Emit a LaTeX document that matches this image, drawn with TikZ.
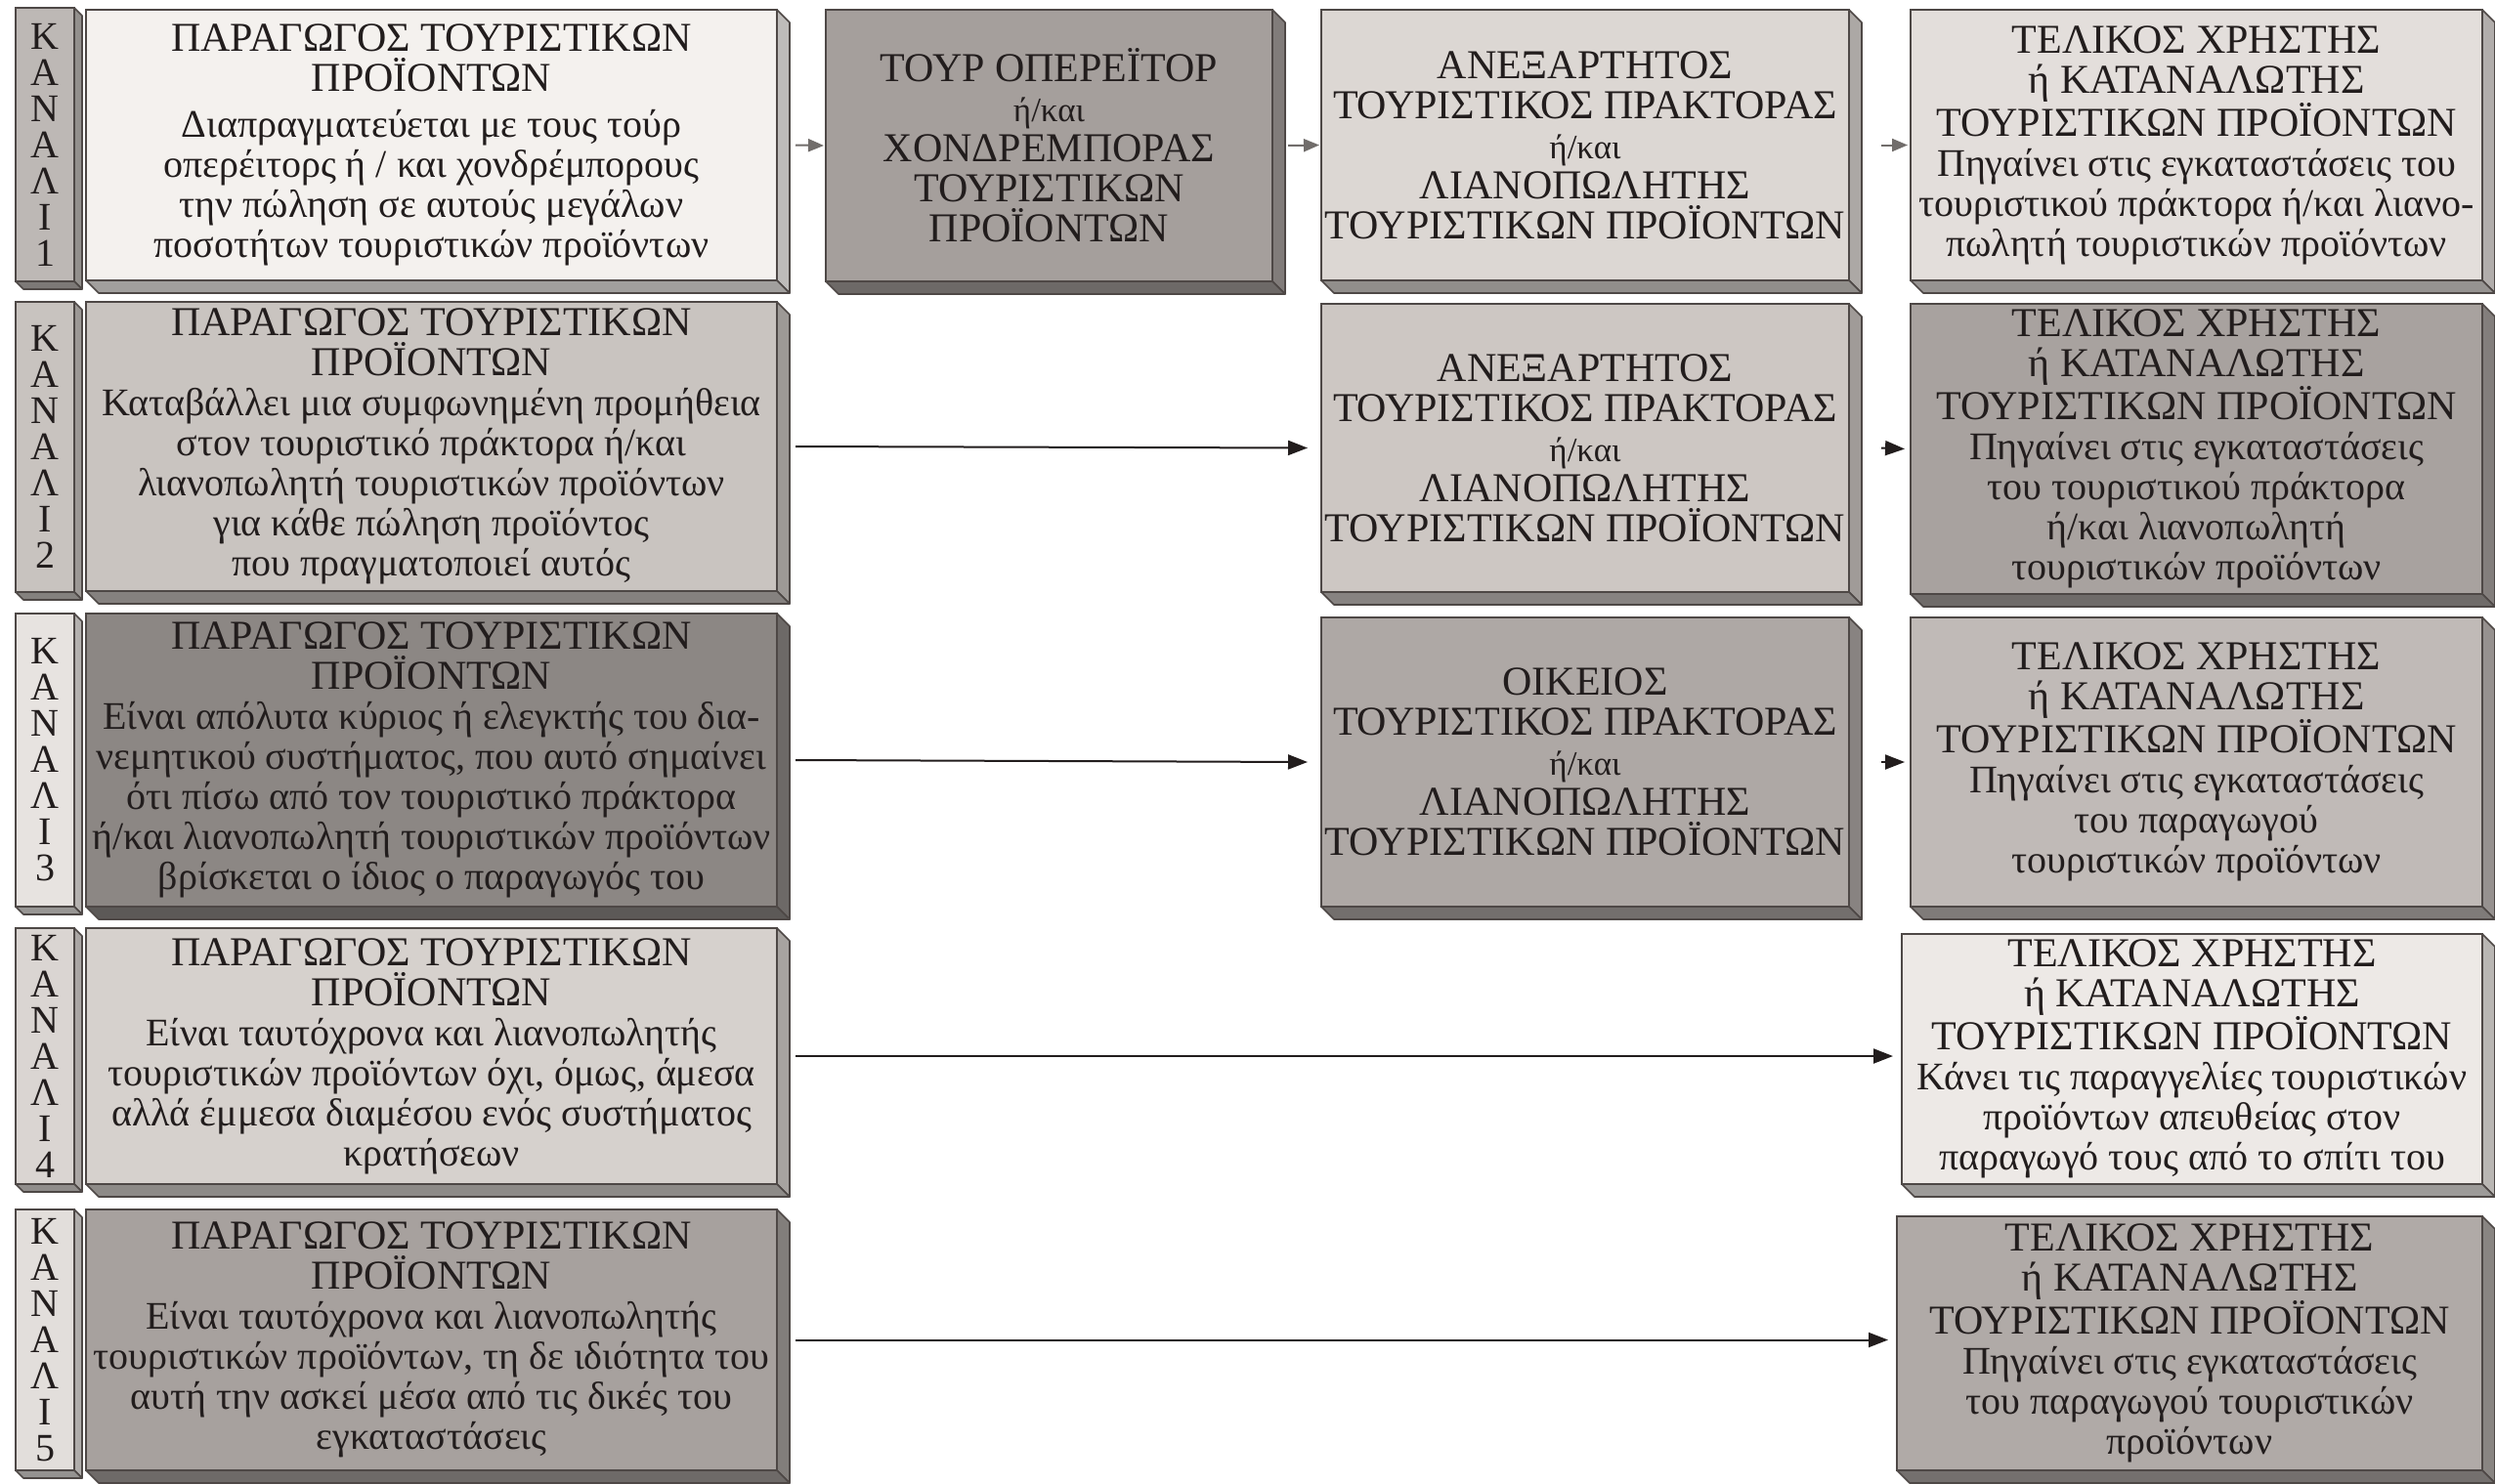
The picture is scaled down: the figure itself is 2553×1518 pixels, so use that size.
\documentclass[tikz,border=0pt]{standalone}
\usepackage{fontspec}
\setmainfont{Liberation Serif}
\usetikzlibrary{arrows.meta}

\definecolor{edge}{HTML}{4E4846}
\definecolor{ink}{HTML}{221D1D}
\definecolor{cA}{HTML}{F4F1EE}
\definecolor{cB}{HTML}{A59F9C}
\definecolor{cC}{HTML}{DCD7D3}
\definecolor{cD}{HTML}{E3DEDB}
\definecolor{cE}{HTML}{C9C4C0}
\definecolor{cF}{HTML}{CDC7C3}
\definecolor{cG}{HTML}{A8A29F}
\definecolor{cH}{HTML}{8C8784}
\definecolor{cI}{HTML}{AEA8A5}
\definecolor{cJ}{HTML}{C0BAB7}
\definecolor{cK}{HTML}{D6D1CD}
\definecolor{cL}{HTML}{EDE9E6}
\definecolor{cM}{HTML}{A7A19E}
\definecolor{cN}{HTML}{B0AAA7}
\definecolor{sA}{HTML}{BDB8B5}
\definecolor{sB}{HTML}{C8C3BF}
\definecolor{sC}{HTML}{E7E3E0}
\definecolor{sD}{HTML}{DAD5D2}
\definecolor{sE}{HTML}{E2DEDB}

\tikzset{
  face/.style={draw=edge, line width=1.6pt, fill=#1, inner sep=0pt, outer sep=0pt,
    align=center, text=ink, font=\fontsize{40}{41}\selectfont},
  spine/.style={face=#1, font=\fontsize{40}{37}\selectfont},
  rside/.style={fill=#1!78!black, draw=edge, line width=1.6pt, line join=round},
  bside/.style={fill=#1!66!black, draw=edge, line width=1.6pt, line join=round},
  link/.style={line width=2pt, draw=ink, -{Triangle[length=20pt,width=15pt]}},
  shortlink/.style={line width=2pt, draw=edge!80, -{Triangle[length=16pt,width=13pt]}},
}

% \slabnode{name}{x1}{y1}{x2}{y2}{colour}{depth}{style}{text}
% front face as a node, with a slanted depth to the right and below
\newcommand\slabnode[9]{%
  \node[#8=#6, minimum width={#4-#2}, minimum height={#5-#3}] (#1)
    at ({(#2+#4)/2},{(#3+#5)/2}) {#9};
  \filldraw[rside=#6] (#1.north east) -- ([shift={(#7,#7)}]#1.north east)
    -- ([shift={(#7,#7)}]#1.south east) -- (#1.south east) -- cycle;
  \filldraw[bside=#6] (#1.south west) -- (#1.south east)
    -- ([shift={(#7,#7)}]#1.south east) -- ([shift={(#7,#7)}]#1.south west) -- cycle;
}
% capital headings and the small "or/and" line
\newcommand\hd[1]{{\fontsize{42}{41}\selectfont #1}}
\newcommand\sm[1]{{\fontsize{35}{41}\selectfont #1}}

\begin{document}
\begin{tikzpicture}[x=1pt, y=-1pt]
\useasboundingbox (0,0) rectangle (2553,1518);
\fill[white] (0,0) rectangle (2553,1518);

% ---------- channel 1 ----------
\slabnode{k1}{16}{8}{76}{288}{sA}{8}{spine}{Κ\\Α\\Ν\\Α\\Λ\\Ι\\1}
\slabnode{p1}{88}{10}{795}{287}{cA}{13}{face}{%
  \hd{ΠΑΡΑΓΩΓΟΣ ΤΟΥΡΙΣΤΙΚΩΝ}\\\hd{ΠΡΟΪΟΝΤΩΝ}\\[6pt]
  Διαπραγματεύεται με τους τούρ\\οπερέιτορς ή / και χονδρέμπορους\\
  την πώληση σε αυτούς μεγάλων\\ποσοτήτων τουριστικών προϊόντων}
\slabnode{t1}{845}{10}{1302}{288}{cB}{13}{face}{%
  \hd{ΤΟΥΡ ΟΠΕΡΕΪΤΟΡ}\\\sm{ή/και}\\\hd{ΧΟΝΔΡΕΜΠΟΡΑΣ}\\\hd{ΤΟΥΡΙΣΤΙΚΩΝ}\\\hd{ΠΡΟΪΟΝΤΩΝ}}
\slabnode{a1}{1352}{10}{1892}{287}{cC}{13}{face}{%
  \hd{ΑΝΕΞΑΡΤΗΤΟΣ}\\\hd{ΤΟΥΡΙΣΤΙΚΟΣ ΠΡΑΚΤΟΡΑΣ}\\\sm{ή/και}\\\hd{ΛΙΑΝΟΠΩΛΗΤΗΣ}\\
  \hd{ΤΟΥΡΙΣΤΙΚΩΝ ΠΡΟΪΟΝΤΩΝ}}
\slabnode{u1}{1955}{10}{2540}{287}{cD}{13}{face}{%
  \hd{ΤΕΛΙΚΟΣ ΧΡΗΣΤΗΣ}\\\hd{ή ΚΑΤΑΝΑΛΩΤΗΣ}\\\hd{ΤΟΥΡΙΣΤΙΚΩΝ ΠΡΟΪΟΝΤΩΝ}\\
  Πηγαίνει στις εγκαταστάσεις του\\τουριστικού πράκτορα ή/και λιανο-\\
  πωλητή τουριστικών προϊόντων}

% ---------- channel 2 ----------
\slabnode{k2}{16}{309}{76}{606}{sB}{8}{spine}{Κ\\Α\\Ν\\Α\\Λ\\Ι\\2}
\slabnode{p2}{88}{309}{795}{605}{cE}{13}{face}{%
  \hd{ΠΑΡΑΓΩΓΟΣ ΤΟΥΡΙΣΤΙΚΩΝ}\\\hd{ΠΡΟΪΟΝΤΩΝ}\\
  Καταβάλλει μια συμφωνημένη προμήθεια\\στον τουριστικό πράκτορα ή/και\\
  λιανοπωλητή τουριστικών προϊόντων\\για κάθε πώληση προϊόντος\\
  που πραγματοποιεί αυτός}
\slabnode{a2}{1352}{311}{1892}{606}{cF}{13}{face}{%
  \hd{ΑΝΕΞΑΡΤΗΤΟΣ}\\\hd{ΤΟΥΡΙΣΤΙΚΟΣ ΠΡΑΚΤΟΡΑΣ}\\\sm{ή/και}\\\hd{ΛΙΑΝΟΠΩΛΗΤΗΣ}\\
  \hd{ΤΟΥΡΙΣΤΙΚΩΝ ΠΡΟΪΟΝΤΩΝ}}
\slabnode{u2}{1955}{311}{2540}{608}{cG}{13}{face}{%
  \hd{ΤΕΛΙΚΟΣ ΧΡΗΣΤΗΣ}\\\hd{ή ΚΑΤΑΝΑΛΩΤΗΣ}\\\hd{ΤΟΥΡΙΣΤΙΚΩΝ ΠΡΟΪΟΝΤΩΝ}\\
  Πηγαίνει στις εγκαταστάσεις\\του τουριστικού πράκτορα\\ή/και λιανοπωλητή\\
  τουριστικών προϊόντων}

% ---------- channel 3 ----------
\slabnode{k3}{16}{628}{76}{928}{sC}{8}{spine}{Κ\\Α\\Ν\\Α\\Λ\\Ι\\3}
\slabnode{p3}{88}{628}{795}{928}{cH}{13}{face}{%
  \hd{ΠΑΡΑΓΩΓΟΣ ΤΟΥΡΙΣΤΙΚΩΝ}\\\hd{ΠΡΟΪΟΝΤΩΝ}\\
  Είναι απόλυτα κύριος ή ελεγκτής του δια-\\νεμητικού συστήματος, που αυτό σημαίνει\\
  ότι πίσω από τον τουριστικό πράκτορα\\ή/και λιανοπωλητή τουριστικών προϊόντων\\
  βρίσκεται ο ίδιος ο παραγωγός του}
\slabnode{a3}{1352}{632}{1892}{928}{cI}{13}{face}{%
  \hd{ΟΙΚΕΙΟΣ}\\\hd{ΤΟΥΡΙΣΤΙΚΟΣ ΠΡΑΚΤΟΡΑΣ}\\\sm{ή/και}\\\hd{ΛΙΑΝΟΠΩΛΗΤΗΣ}\\
  \hd{ΤΟΥΡΙΣΤΙΚΩΝ ΠΡΟΪΟΝΤΩΝ}}
\slabnode{u3}{1955}{632}{2540}{928}{cJ}{13}{face}{%
  \hd{ΤΕΛΙΚΟΣ ΧΡΗΣΤΗΣ}\\\hd{ή ΚΑΤΑΝΑΛΩΤΗΣ}\\\hd{ΤΟΥΡΙΣΤΙΚΩΝ ΠΡΟΪΟΝΤΩΝ}\\
  Πηγαίνει στις εγκαταστάσεις\\του παραγωγού\\τουριστικών προϊόντων}

% ---------- channel 4 ----------
\slabnode{k4}{16}{950}{76}{1212}{sD}{8}{spine}{Κ\\Α\\Ν\\Α\\Λ\\Ι\\4}
\slabnode{p4}{88}{950}{795}{1212}{cK}{13}{face}{%
  \hd{ΠΑΡΑΓΩΓΟΣ ΤΟΥΡΙΣΤΙΚΩΝ}\\\hd{ΠΡΟΪΟΝΤΩΝ}\\
  Είναι ταυτόχρονα και λιανοπωλητής\\τουριστικών προϊόντων όχι, όμως, άμεσα\\
  αλλά έμμεσα διαμέσου ενός συστήματος\\κρατήσεων}
\slabnode{u4}{1946}{956}{2540}{1212}{cL}{13}{face}{%
  \hd{ΤΕΛΙΚΟΣ ΧΡΗΣΤΗΣ}\\\hd{ή ΚΑΤΑΝΑΛΩΤΗΣ}\\\hd{ΤΟΥΡΙΣΤΙΚΩΝ ΠΡΟΪΟΝΤΩΝ}\\
  Κάνει τις παραγγελίες τουριστικών\\προϊόντων απευθείας στον\\
  παραγωγό τους από το σπίτι του}

% ---------- channel 5 ----------
\slabnode{k5}{16}{1238}{76}{1505}{sE}{8}{spine}{Κ\\Α\\Ν\\Α\\Λ\\Ι\\5}
\slabnode{p5}{88}{1238}{795}{1505}{cM}{13}{face}{%
  \hd{ΠΑΡΑΓΩΓΟΣ ΤΟΥΡΙΣΤΙΚΩΝ}\\\hd{ΠΡΟΪΟΝΤΩΝ}\\
  Είναι ταυτόχρονα και λιανοπωλητής\\τουριστικών προϊόντων, τη δε ιδιότητα του\\
  αυτή την ασκεί μέσα από τις δικές του\\εγκαταστάσεις}
\slabnode{u5}{1941}{1245}{2540}{1505}{cN}{13}{face}{%
  \hd{ΤΕΛΙΚΟΣ ΧΡΗΣΤΗΣ}\\\hd{ή ΚΑΤΑΝΑΛΩΤΗΣ}\\\hd{ΤΟΥΡΙΣΤΙΚΩΝ ΠΡΟΪΟΝΤΩΝ}\\
  Πηγαίνει στις εγκαταστάσεις\\του παραγωγού τουριστικών\\προϊόντων}

% ---------- connectors ----------
\draw[shortlink] ([xshift=19]p1.east) -- ([xshift=-2]t1.west);
\draw[shortlink] ([xshift=16]t1.east) -- ([xshift=-2]a1.west);
\draw[shortlink] ([xshift=33]a1.east) -- ([xshift=-3]u1.west);

\draw[link] ([xshift=19]p2.east) -- ([xshift=-14]a2.west);
\draw[link] ([xshift=33]a2.east) -- ([xshift=-6]u2.west);

\draw[link] ([xshift=19]p3.east) -- ([xshift=-14]a3.west);
\draw[link] ([xshift=33]a3.east) -- ([xshift=-6]u3.west);

\draw[link] ([xshift=19]p4.east) -- ([xshift=-9]u4.west |- p4.east);
\draw[link] ([xshift=19]p5.east) -- ([xshift=-9]u5.west |- p5.east);
\end{tikzpicture}
\end{document}
